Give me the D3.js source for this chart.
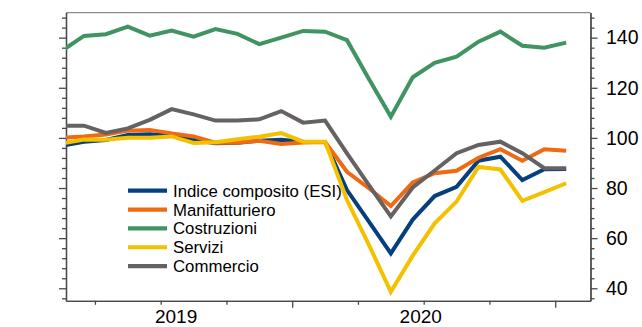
<!DOCTYPE html>
<html><head><meta charset="utf-8">
<script src="https://cdn.jsdelivr.net/npm/d3@7"></script>
<style>
html,body{margin:0;padding:0;background:#fff;}
svg{display:block;font-family:"Liberation Sans",Arial,sans-serif;}
</style></head>
<body><svg id="c" width="642" height="327"></svg>
<script>
const months = ["2019-02","2019-03","2019-04","2019-05","2019-06","2019-07","2019-08","2019-09","2019-10","2019-11","2019-12",
  "2020-01","2020-02","2020-03","2020-04","2020-05","2020-06","2020-07","2020-08","2020-09","2020-10","2020-11","2020-12","2021-01"];
const seriesNames = ["Indice composito (ESI)","Manifatturiero","Costruzioni","Servizi","Commercio"];
const esi = [96.9,98.5,99.2,101.2,101.5,101.0,99.3,97.9,98.1,98.9,99.3,98.5,98.4,79.2,66.6,53.9,67.4,76.8,80.5,90.9,92.5,83.2,87.5,87.6];
const manifatturiero = [100.1,100.6,101.4,102.9,103.2,101.8,100.6,98.1,98.1,98.9,97.6,98.2,98.4,86.5,79.9,72.8,82.2,85.9,86.9,92.1,95.5,90.9,95.5,94.9];
const costruzioni = [134.8,140.7,141.4,144.4,140.8,142.8,140.4,143.4,141.5,137.4,140.0,142.7,142.4,139.0,123.5,108.5,124.2,130.0,132.4,138.4,142.4,136.8,136.0,138.0];
const servizi = [97.8,99.4,99.3,100.1,100.1,100.6,98.0,98.3,99.5,100.5,101.9,98.5,98.5,75.2,57.3,38.6,53.0,65.9,74.6,88.4,87.4,74.9,78.4,81.9];
const commercio = [104.9,104.9,102.0,103.8,107.2,111.5,109.4,106.9,106.9,107.4,110.7,106.1,106.9,93.8,81.2,68.7,80.2,87.0,93.9,97.2,98.5,93.9,87.9,87.9];
const yearLabels = ["2019","2020"];
const yMajorTicks = [40,60,80,100,120,140];
const colors = ["#063f7e","#ef6a12","#3f9462","#f2c100","#656261"];

const seriesValues = [esi, manifatturiero, costruzioni, servizi, commercio];
const mIndex = s => { const [y,m] = s.split("-").map(Number); return (y-2019)*12 + (m-1); };

const L=66, R=590.5, T=12.6, B=300.8;
const x = d3.scaleLinear().domain([1.18, 25.11]).range([L, R]);
const y = d3.scaleLinear().domain([35, 150]).range([B, T]);

const svg = d3.select("#c");
svg.append("defs").append("clipPath").attr("id","clip")
  .append("rect").attr("x",L).attr("y",T).attr("width",R-L).attr("height",B-T);

// frame
svg.append("line").attr("x1",L).attr("x2",R).attr("y1",T).attr("y2",T).attr("stroke","#8a8a8a").attr("stroke-width",1.3);

const axisColor = "#4a4a4a";
function styleAxis(g){ g.select(".domain").attr("stroke",axisColor).attr("stroke-width",1.3); g.selectAll(".tick line").attr("stroke",axisColor).attr("stroke-width",1.3); }

const minorY = d3.range(36, 150, 4).filter(v => v % 20 !== 0);
// left axis
svg.append("g").attr("transform",`translate(${L},0)`).call(d3.axisLeft(y).tickValues(minorY).tickSize(4).tickSizeOuter(0).tickFormat("")).call(styleAxis);
svg.append("g").attr("transform",`translate(${L},0)`).call(d3.axisLeft(y).tickValues(yMajorTicks).tickSize(7).tickSizeOuter(0).tickFormat("")).call(styleAxis);
// right axis
svg.append("g").attr("transform",`translate(${R},0)`).call(d3.axisRight(y).tickValues(minorY).tickSize(4).tickSizeOuter(0).tickFormat("")).call(styleAxis);
const ra = svg.append("g").attr("transform",`translate(${R},0)`).call(d3.axisRight(y).tickValues(yMajorTicks).tickSize(7).tickSizeOuter(0).tickPadding(8.5)).call(styleAxis);
ra.selectAll("text").attr("font-size","19.5px").attr("fill","#000").attr("font-family","Liberation Sans, Arial, sans-serif");

// bottom axis
const quarterTicks = [2.5,5.5,8.5,14.5,17.5,20.5];
const yearTicks = [11.5,23.5];
svg.append("g").attr("transform",`translate(0,${B})`).call(d3.axisBottom(x).tickValues(quarterTicks).tickSize(4).tickSizeOuter(0).tickFormat("")).call(styleAxis);
svg.append("g").attr("transform",`translate(0,${B})`).call(d3.axisBottom(x).tickValues(yearTicks).tickSize(7).tickSizeOuter(0).tickFormat("")).call(styleAxis);

// year labels: centred on visible part of each year
const yearBounds = [[x.domain()[0], 11.5],[11.5, 23.5]];
svg.selectAll("text.year").data(yearLabels).enter().append("text").attr("class","year")
  .attr("x",(d,i)=> (x(yearBounds[i][0])+x(yearBounds[i][1]))/2 - 3)
  .attr("y",322.5).attr("text-anchor","middle").attr("font-size","19px").attr("fill","#000").text(d=>d);

// lines
const line = d3.line().x((d,i)=>x(mIndex(months[i]))).y(d=>y(d));
const lg = svg.append("g").attr("clip-path","url(#clip)");
seriesValues.forEach((vals,k)=>{
  lg.append("path").datum(vals).attr("d",line).attr("fill","none").attr("stroke",colors[k])
    .attr("stroke-width",4).attr("stroke-linejoin","miter").attr("stroke-miterlimit",3);
});

// legend
const leg = svg.append("g");
seriesNames.forEach((n,k)=>{
  const cy = 190.7 + k*18.85;
  leg.append("line").attr("x1",128).attr("x2",167).attr("y1",cy).attr("y2",cy).attr("stroke",colors[k]).attr("stroke-width",4.2);
  leg.append("text").attr("x",173).attr("y",cy).attr("dy","0.36em").attr("font-size","16.8px").attr("fill","#000").text(n);
});
</script></body></html>
